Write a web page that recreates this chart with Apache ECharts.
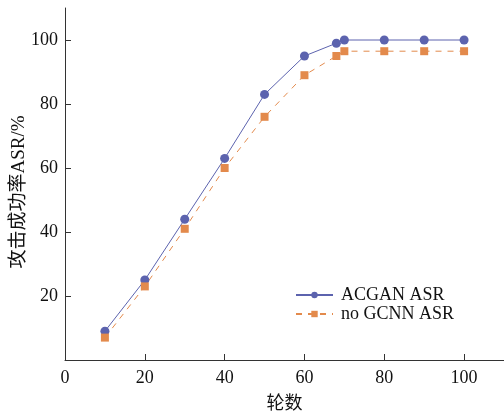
<!DOCTYPE html>
<html><head><meta charset="utf-8">
<script src="https://cdn.jsdelivr.net/npm/echarts@6/dist/echarts.min.js"></script>
<style>html,body{margin:0;padding:0;background:#fff}#c{width:504px;height:417px}</style>
</head><body><div id="c"></div>
<script>
const epochs = [10, 20, 30, 40, 50, 60, 68, 70, 80, 90, 100];
const acganASR = [9, 25, 44, 63, 83, 95, 99, 100, 100, 100, 100];
const noGcnnASR = [7, 23, 41, 60, 76, 89, 95, 96.5, 96.5, 96.5, 96.5];
const xTicks = [0, 20, 40, 60, 80, 100];
const yTicks = [20, 40, 60, 80, 100];
const xName = '轮数';
const yName = '攻击成功率ASR/%';
const names = ['ACGAN ASR', 'no GCNN ASR'];

const font = '"Liberation Serif", "Times New Roman", "Noto Sans CJK SC", serif';
const chart = echarts.init(document.getElementById('c'), null, {renderer: 'canvas'});
chart.setOption({
  animation: false,
  textStyle: {fontFamily: font},
  grid: {left: 65, right: 0, top: 8, bottom: 57, containLabel: false, outerBoundsMode: 'none'},
  legend: {
    orient: 'vertical', left: 290, top: 281, itemWidth: 37, itemHeight: 8, itemGap: 1,
    textStyle: {fontFamily: font, fontSize: 18, color: '#111', padding: [0, 0, 0, 3]},
    data: names
  },
  xAxis: {
    type: 'value', min: 0, max: 110,
    name: xName, nameLocation: 'middle', nameGap: 35, nameMoveOverlap: false,
    nameTextStyle: {fontFamily: font, fontSize: 18, color: '#111'},
    axisLine: {lineStyle: {color: '#333', width: 1}},
    axisTick: {inside: true, length: 6, customValues: xTicks, lineStyle: {color: '#333'}},
    axisLabel: {customValues: xTicks, fontFamily: font, fontSize: 18, color: '#111', margin: 9},
    splitLine: {show: false}
  },
  yAxis: {
    type: 'value', min: 0, max: 110,
    name: yName, nameLocation: 'middle', nameGap: 36, nameMoveOverlap: false,
    nameTextStyle: {fontFamily: font, fontSize: 19, color: '#111', padding: [0, 16, 0, 0]},
    axisLine: {show: true, lineStyle: {color: '#333', width: 1}},
    axisTick: {show: true, inside: true, length: 6, customValues: yTicks, lineStyle: {color: '#333'}},
    axisLabel: {customValues: yTicks, fontFamily: font, fontSize: 18, color: '#111', margin: 7},
    splitLine: {show: false}
  },
  series: [
    {
      name: names[0], type: 'line',
      data: epochs.map((x, i) => [x, acganASR[i]]),
      symbol: 'circle', symbolSize: 9,
      itemStyle: {color: '#5c63ae'},
      lineStyle: {color: '#5c63ae', width: 1}
    },
    {
      name: names[1], type: 'line',
      data: epochs.map((x, i) => [x, noGcnnASR[i]]),
      symbol: 'rect', symbolSize: 8,
      itemStyle: {color: '#e38a4c'},
      lineStyle: {color: '#e38a4c', width: 1, type: [6, 6]}
    }
  ]
});
</script></body></html>
